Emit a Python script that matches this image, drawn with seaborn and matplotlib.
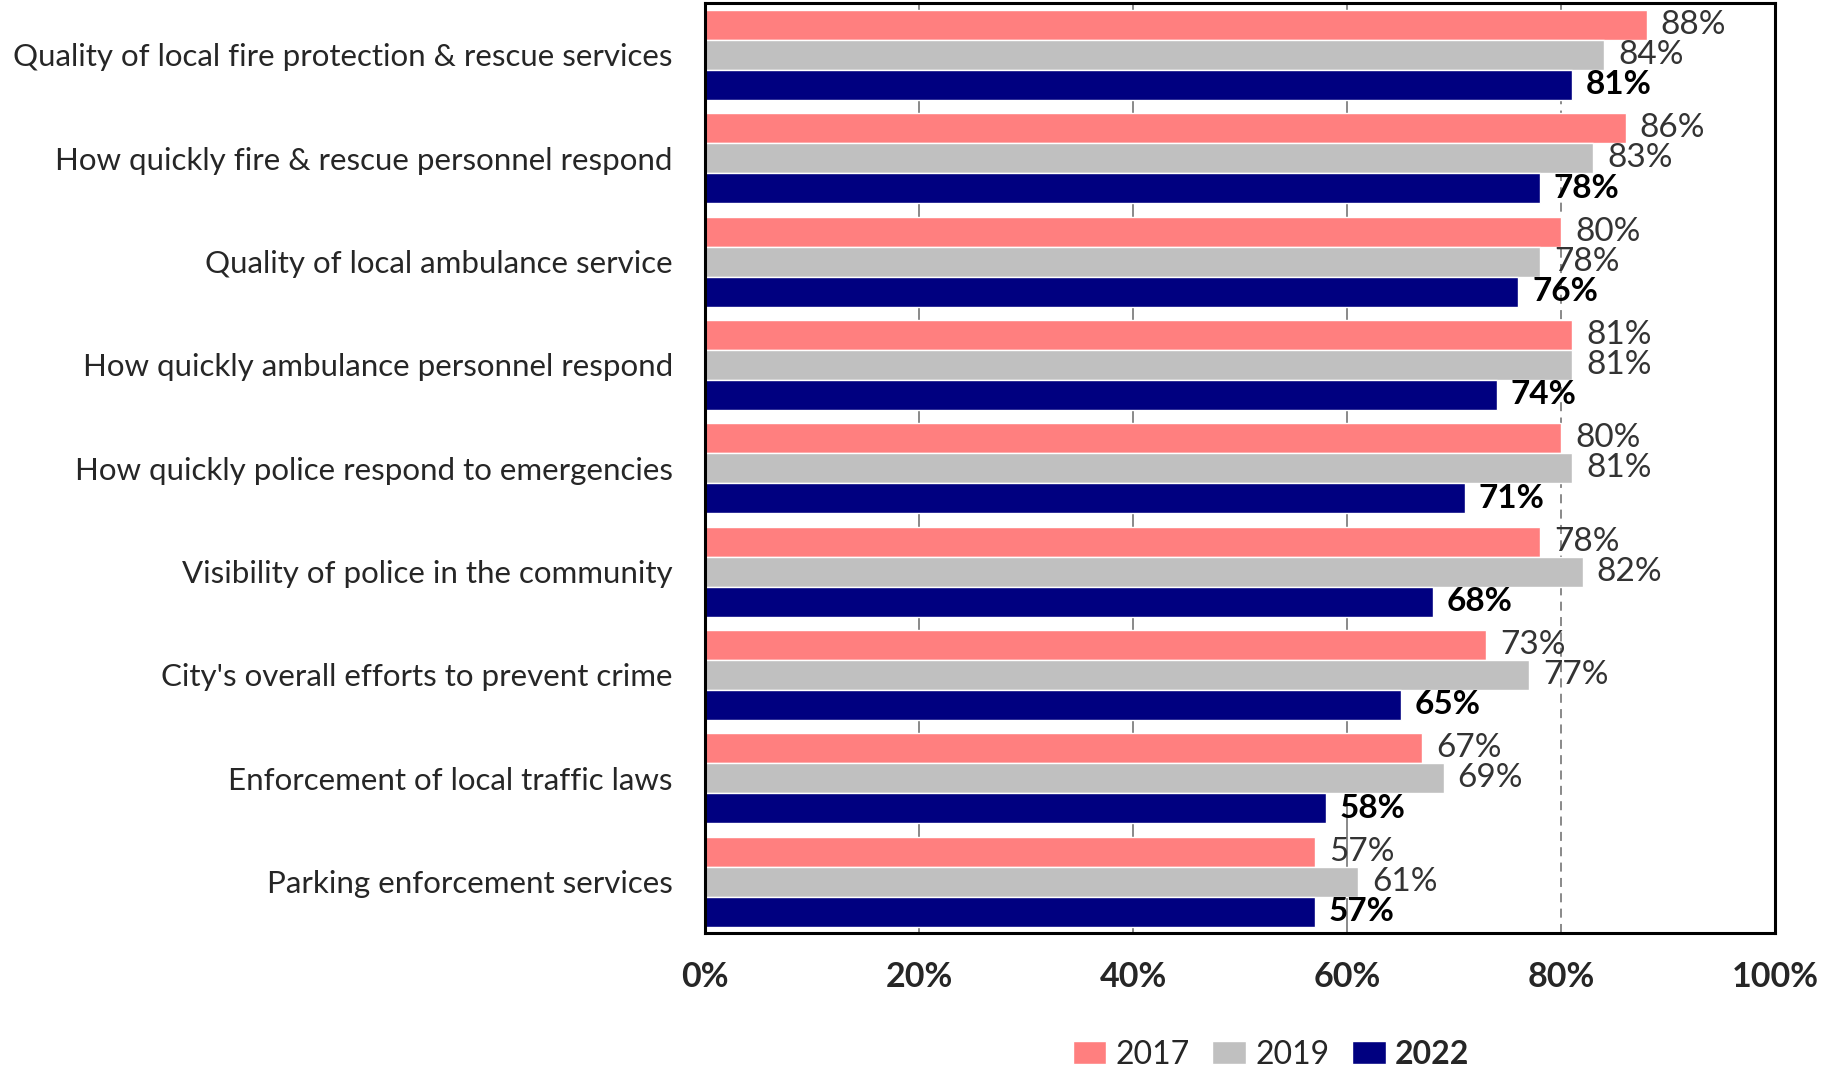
import matplotlib
matplotlib.use('Agg')
import matplotlib.pyplot as plt
import pandas as pd
import seaborn as sns

categories = [
    'Quality of local fire protection & rescue services',
    'How quickly fire & rescue personnel respond',
    'Quality of local ambulance service',
    'How quickly ambulance personnel respond',
    'How quickly police respond to emergencies',
    'Visibility of police in the community',
    "City's overall efforts to prevent crime",
    'Enforcement of local traffic laws',
    'Parking enforcement services',
]
years = ['2017', '2019', '2022']
vals_2017 = [88, 86, 80, 81, 80, 78, 73, 67, 57]
vals_2019 = [84, 83, 78, 81, 81, 82, 77, 69, 61]
vals_2022 = [81, 78, 76, 74, 71, 68, 65, 58, 57]
colors = ['#FF7F7F', '#C0C0C0', '#000080']
x_ticks = [0, 20, 40, 60, 80, 100]

sns.set_style('white')
plt.rcParams['font.family'] = ['Lato', 'DejaVu Sans']

rows = []
for year, vals in zip(years, [vals_2017, vals_2019, vals_2022]):
    for cat, v in zip(categories, vals):
        rows.append({'category': cat, 'year': year, 'value': v})
df = pd.DataFrame(rows)

fig = plt.figure(figsize=(18.21, 10.74), dpi=100)
ax = fig.add_axes([0.387, 0.131, 0.588, 0.866])

sns.barplot(data=df, y='category', x='value', hue='year', order=categories,
            hue_order=years, palette=colors, width=0.87, saturation=1,
            orient='h', ax=ax, legend=True)

ax.set_xlim(0, 100)
ax.set_xticks(x_ticks)
ax.set_xticklabels([f'{t}%' for t in x_ticks], fontsize=24.5, fontweight='bold')
ax.tick_params(axis='x', length=0, pad=20)
ax.tick_params(axis='y', length=0, pad=23, labelsize=22.5)
ax.set_xlabel('')
ax.set_ylabel('')

ax.set_axisbelow(True)
ax.xaxis.grid(True, color='#808080', linewidth=1.3)
ax.get_xgridlines()[4].set_dashes([5, 3.5])

for sp in ax.spines.values():
    sp.set_visible(True)
    sp.set_color('black')
    sp.set_linewidth(2.2)

for i, cont in enumerate(ax.containers):
    if i == 2:
        ax.bar_label(cont, fmt='%d%%', padding=10, fontsize=24,
                     fontweight='bold', color='black')
    else:
        ax.bar_label(cont, fmt='%d%%', padding=10, fontsize=24,
                     color='#333333')

handles, labels = ax.get_legend_handles_labels()
ax.get_legend().remove()
leg = fig.legend(handles, labels, loc='center', bbox_to_anchor=(0.698, 0.018),
                 ncol=3, frameon=False, fontsize=23, handlelength=1.05,
                 handleheight=0.75, handletextpad=0.3, columnspacing=0.7)
leg.get_texts()[2].set_fontweight('bold')

fig.savefig('out.png', dpi=100)
